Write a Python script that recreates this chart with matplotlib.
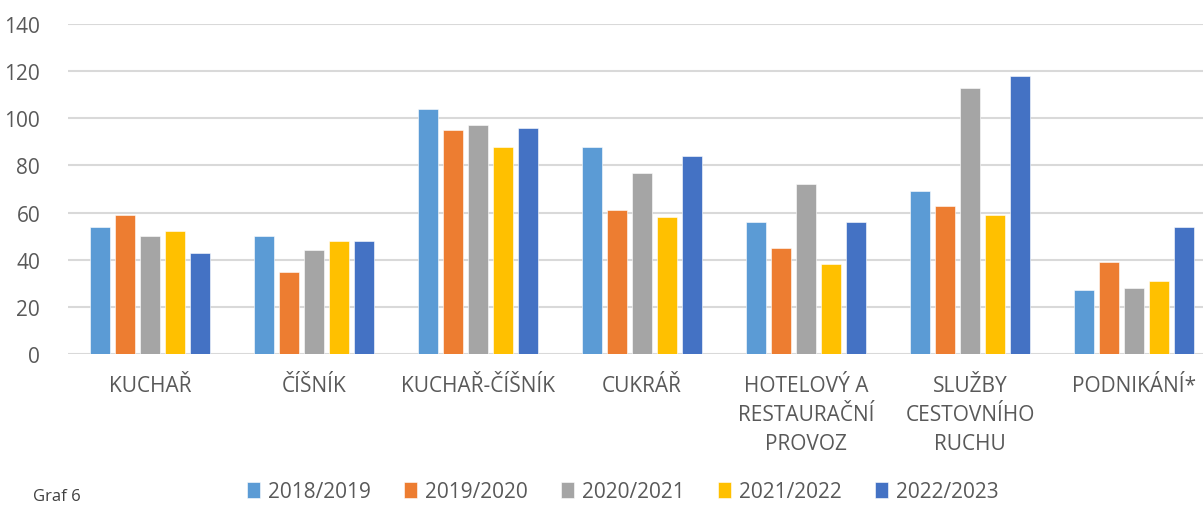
import numpy as np
import matplotlib.pyplot as plt

plt.rcParams['font.family'] = ['Open Sans', 'DejaVu Sans']

categories = ['KUCHAŘ', 'ČÍŠNÍK', 'KUCHAŘ-ČÍŠNÍK', 'CUKRÁŘ',
              'HOTELOVÝ A\nRESTAURAČNÍ\nPROVOZ', 'SLUŽBY\nCESTOVNÍHO\nRUCHU', 'PODNIKÁNÍ*']
years = ['2018/2019', '2019/2020', '2020/2021', '2021/2022', '2022/2023']
v_2018 = [54, 50, 104, 88, 56, 69, 27]
v_2019 = [59, 35, 95, 61, 45, 63, 39]
v_2020 = [50, 44, 97, 77, 72, 113, 28]
v_2021 = [52, 48, 88, 58, 38, 59, 31]
v_2022 = [43, 48, 96, 84, 56, 118, 54]
series = [v_2018, v_2019, v_2020, v_2021, v_2022]
colors = ['#5B9BD5', '#ED7D31', '#A5A5A5', '#FFC000', '#4472C4']

W, H = 1203, 506
fig = plt.figure(figsize=(W / 100, H / 100), dpi=100)
# plot area runs a bit past the right edge, like the cropped original
ax = fig.add_axes([68 / W, (H - 355) / H, 1148 / W, 330 / H])

x = np.arange(len(categories))
pitch = 0.152
bw = 0.122
for i, (vals, c) in enumerate(zip(series, colors)):
    ax.bar(x + (i - 2) * pitch, vals, width=bw, color=c, label=years[i],
           edgecolor='white', linewidth=0.4, zorder=3)

ax.set_xlim(-0.5, len(categories) - 0.5)
ax.set_ylim(0, 140)
ax.set_yticks(range(0, 141, 20))
ax.yaxis.grid(True, color='#D9D9D9', linewidth=1.5, zorder=0)
for s in ax.spines.values():
    s.set_visible(False)
ax.tick_params(axis='both', length=0, labelsize=15, labelcolor='#595959')
ax.tick_params(axis='y', pad=20)
ax.tick_params(axis='x', pad=15)
ax.set_xticks(x)
ax.set_xticklabels(categories, linespacing=1.5, va='top')

fig.legend(loc='center', bbox_to_anchor=(623 / W, 1 - 493 / H), ncol=5,
           frameon=False, fontsize=15, handlelength=0.6, handleheight=0.8,
           handletextpad=0.4, columnspacing=1.6, labelcolor='#595959')
fig.text(33 / W, 1 - 489 / H, 'Graf 6', fontsize=12, color='#404040', va='top')

fig.savefig('out.png', dpi=100)
